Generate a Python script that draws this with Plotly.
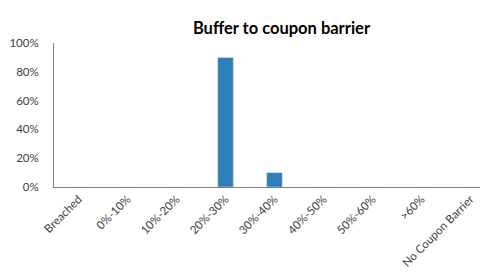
import plotly.graph_objects as go

categories = ["Breached", "0%-10%", "10%-20%", "20%-30%", "30%-40%",
              "40%-50%", "50%-60%", ">60%", "No Coupon Barrier"]
values = [0, 0, 0, 0.90, 0.10, 0, 0, 0, 0]
y_ticks = [0, 0.2, 0.4, 0.6, 0.8, 1.0]
y_tick_labels = ["0%", "20%", "40%", "60%", "80%", "100%"]

fig = go.Figure(go.Bar(x=categories, y=values, marker_color="#2E7EB8",
                       width=0.32))

# page body adds an 8px offset
fig.update_layout(
    width=487, height=267,
    margin=dict(l=46, r=0, t=35, b=88),
    paper_bgcolor="white", plot_bgcolor="white",
    title=dict(text="<b>Buffer to coupon barrier</b>", x=0.5616, xanchor="center",
               y=0.925, yanchor="middle",
               font=dict(family="Lato", size=16.5, color="#000000")),
    font=dict(family="Lato", size=11.5, color="#404040"),
    showlegend=False,
)
fig.update_xaxes(tickangle=-45, showline=True, linecolor="#808080",
                 linewidth=1, ticks="", showgrid=False, automargin=False,
                 tickfont=dict(size=11.5, color="#404040"))
fig.update_yaxes(range=[0, 1.0], tickvals=y_ticks, ticktext=y_tick_labels,
                 showline=True, linecolor="#808080", linewidth=1,
                 showgrid=False, zeroline=False, ticks="", automargin=False,
                 ticklabelstandoff=12,
                 tickfont=dict(size=11.5, color="#404040"))

fig.write_html("out.html")
